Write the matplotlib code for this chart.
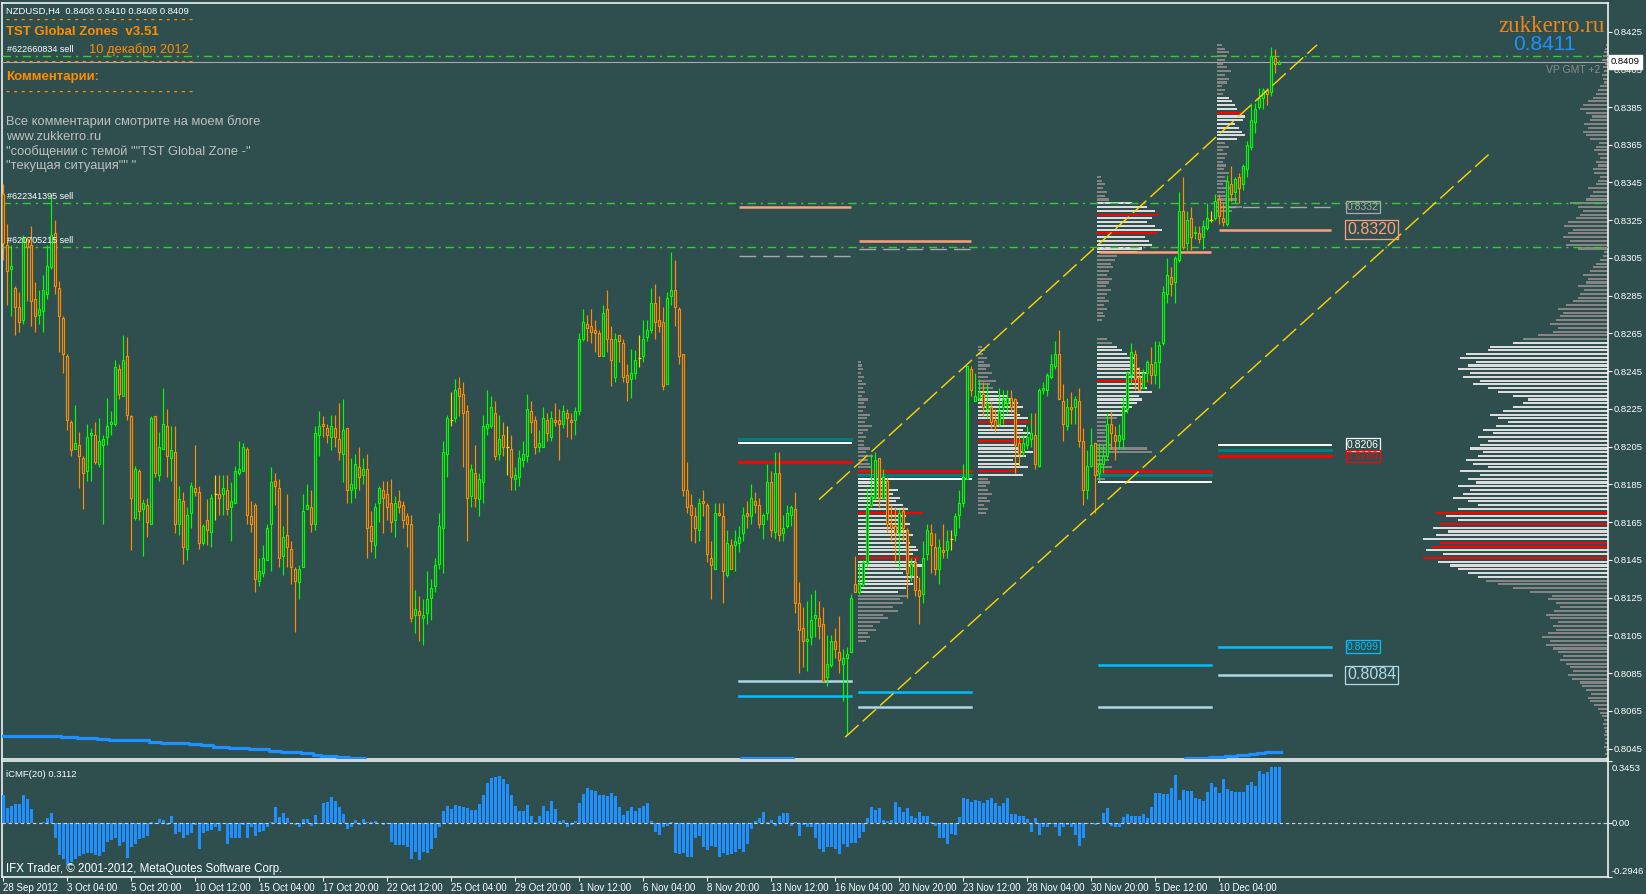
#!/usr/bin/env python3
import matplotlib
matplotlib.use("Agg")
import matplotlib.pyplot as plt
import numpy as np

plt.rcParams["font.family"] = ["Liberation Sans", "DejaVu Sans"]

# ---- NZDUSD H4 bars (prices in pips, 1 pip = 0.0001) ----
opens = [
    8339, 8312, 8299, 8289, 8279, 8272, 8315, 8312, 8283, 8275,
    8277, 8286, 8300, 8318, 8289, 8273, 8253, 8218, 8204, 8206,
    8199, 8192, 8211, 8211, 8196, 8206, 8210, 8217, 8217, 8246,
    8232, 8253, 8221, 8167, 8192, 8172, 8174, 8164, 8221, 8190,
    8204, 8216, 8199, 8202, 8164, 8176, 8151, 8170, 8183, 8181,
    8154, 8166, 8160, 8180, 8180, 8180, 8182, 8173, 8175, 8191,
    8192, 8204, 8168, 8174, 8134, 8138, 8145, 8164, 8187, 8183,
    8147, 8158, 8151, 8140, 8133, 8141, 8172, 8173, 8164, 8211,
    8217, 8215, 8210, 8215, 8209, 8201, 8215, 8182, 8183, 8194,
    8190, 8193, 8163, 8153, 8175, 8182, 8180, 8175, 8166, 8176,
    8174, 8168, 8164, 8116, 8118, 8114, 8117, 8125, 8131, 8143,
    8162, 8201, 8219, 8220, 8236, 8233, 8224, 8179, 8191, 8177,
    8186, 8215, 8216, 8223, 8201, 8211, 8205, 8204, 8188, 8189,
    8198, 8200, 8224, 8219, 8205, 8205, 8219, 8210, 8219, 8219,
    8217, 8223, 8219, 8219, 8224, 8262, 8270, 8269, 8267, 8265,
    8253, 8278, 8262, 8242, 8264, 8260, 8243, 8241, 8244, 8252,
    8253, 8263, 8267, 8281, 8272, 8271, 8238, 8285, 8288, 8278,
    8254, 8182, 8174, 8168, 8161, 8176, 8174, 8146, 8140, 8170,
    8168, 8137, 8153, 8153, 8154, 8159, 8170, 8168, 8176, 8174,
    8164, 8170, 8186, 8160, 8191, 8159, 8163, 8169, 8172, 8122,
    8109, 8102, 8104, 8114, 8114, 8111, 8083, 8089, 8102, 8096,
    8090, 8093, 8096, 8132, 8128, 8132, 8144, 8174, 8178, 8199,
    8178, 8187, 8164, 8163, 8159, 8171, 8161, 8137, 8144, 8129,
    8127, 8148, 8159, 8152, 8140, 8150, 8150, 8156, 8158, 8169,
    8175, 8188, 8246, 8229, 8231, 8233, 8225, 8226, 8219, 8217,
    8226, 8228, 8231, 8230, 8207, 8202, 8206, 8209, 8211, 8195,
    8235, 8235, 8242, 8248, 8254, 8229, 8216, 8226, 8226, 8229,
    8208, 8182, 8195, 8207, 8191, 8196, 8200, 8217, 8211, 8208,
    8209, 8225, 8243, 8254, 8242, 8236, 8244, 8249, 8243, 8250,
    8260, 8286, 8295, 8292, 8304, 8330, 8313, 8326, 8318, 8318,
    8316, 8321, 8325, 8326, 8336, 8326, 8323, 8344, 8340, 8348,
    8344, 8352, 8364, 8377, 8385, 8390, 8394, 8393, 8411, 8408,
]
highs = [
    8344, 8323, 8312, 8290, 8287, 8317, 8316, 8322, 8292, 8288,
    8296, 8312, 8339, 8325, 8293, 8274, 8254, 8219, 8227, 8213,
    8200, 8217, 8215, 8218, 8220, 8211, 8231, 8224, 8251, 8249,
    8264, 8263, 8222, 8195, 8193, 8177, 8178, 8221, 8221, 8213,
    8236, 8225, 8216, 8216, 8184, 8181, 8173, 8186, 8206, 8184,
    8164, 8177, 8180, 8190, 8190, 8190, 8190, 8186, 8195, 8208,
    8207, 8205, 8176, 8175, 8146, 8153, 8164, 8194, 8191, 8188,
    8163, 8180, 8155, 8141, 8142, 8180, 8185, 8182, 8216, 8224,
    8221, 8217, 8222, 8222, 8228, 8230, 8215, 8199, 8201, 8205,
    8199, 8201, 8171, 8175, 8184, 8187, 8187, 8188, 8179, 8182,
    8176, 8170, 8169, 8129, 8126, 8124, 8139, 8135, 8146, 8170,
    8208, 8222, 8234, 8241, 8242, 8239, 8227, 8196, 8206, 8191,
    8222, 8235, 8232, 8229, 8222, 8218, 8216, 8211, 8194, 8203,
    8208, 8233, 8229, 8221, 8214, 8226, 8223, 8224, 8228, 8225,
    8227, 8225, 8223, 8226, 8265, 8278, 8275, 8278, 8272, 8267,
    8280, 8288, 8269, 8265, 8264, 8262, 8249, 8257, 8256, 8264,
    8272, 8272, 8289, 8291, 8285, 8279, 8287, 8308, 8304, 8279,
    8254, 8197, 8180, 8173, 8178, 8182, 8175, 8155, 8175, 8175,
    8175, 8161, 8156, 8161, 8163, 8173, 8176, 8185, 8181, 8178,
    8170, 8196, 8192, 8202, 8202, 8169, 8174, 8174, 8181, 8133,
    8120, 8123, 8127, 8129, 8123, 8120, 8105, 8105, 8109, 8115,
    8098, 8099, 8127, 8147, 8143, 8145, 8183, 8201, 8202, 8199,
    8193, 8189, 8174, 8173, 8172, 8173, 8162, 8146, 8146, 8136,
    8155, 8164, 8164, 8159, 8156, 8164, 8161, 8161, 8170, 8182,
    8196, 8248, 8248, 8244, 8241, 8239, 8238, 8229, 8225, 8236,
    8235, 8235, 8235, 8231, 8211, 8211, 8216, 8223, 8223, 8236,
    8239, 8244, 8254, 8261, 8267, 8238, 8231, 8234, 8232, 8236,
    8215, 8203, 8215, 8207, 8207, 8206, 8223, 8224, 8216, 8217,
    8232, 8245, 8260, 8256, 8247, 8246, 8251, 8258, 8261, 8261,
    8290, 8305, 8300, 8306, 8340, 8348, 8330, 8332, 8322, 8322,
    8325, 8334, 8330, 8339, 8339, 8334, 8349, 8354, 8348, 8350,
    8355, 8367, 8387, 8387, 8395, 8395, 8395, 8417, 8416, 8410,
]
lows = [
    8304, 8280, 8274, 8264, 8266, 8270, 8282, 8269, 8266, 8270,
    8266, 8283, 8299, 8286, 8255, 8244, 8214, 8200, 8204, 8183,
    8172, 8187, 8187, 8196, 8194, 8164, 8206, 8211, 8216, 8230,
    8232, 8219, 8150, 8166, 8166, 8147, 8157, 8164, 8189, 8187,
    8204, 8189, 8187, 8159, 8158, 8143, 8145, 8162, 8179, 8151,
    8153, 8153, 8152, 8166, 8169, 8169, 8169, 8155, 8175, 8190,
    8192, 8164, 8160, 8128, 8131, 8136, 8145, 8139, 8174, 8141,
    8137, 8141, 8132, 8107, 8124, 8141, 8172, 8160, 8161, 8200,
    8210, 8207, 8203, 8205, 8198, 8186, 8175, 8175, 8178, 8182,
    8185, 8146, 8149, 8146, 8165, 8159, 8166, 8160, 8157, 8170,
    8162, 8152, 8112, 8106, 8102, 8100, 8111, 8113, 8128, 8140,
    8138, 8189, 8216, 8218, 8221, 8194, 8155, 8173, 8173, 8168,
    8175, 8211, 8215, 8198, 8198, 8200, 8190, 8182, 8182, 8184,
    8194, 8197, 8212, 8201, 8202, 8205, 8208, 8208, 8216, 8198,
    8215, 8210, 8209, 8211, 8222, 8261, 8261, 8260, 8255, 8253,
    8253, 8255, 8237, 8239, 8250, 8239, 8229, 8231, 8241, 8247,
    8250, 8261, 8265, 8262, 8266, 8235, 8238, 8280, 8269, 8249,
    8179, 8170, 8155, 8154, 8155, 8168, 8144, 8124, 8140, 8168,
    8122, 8136, 8140, 8139, 8149, 8155, 8162, 8164, 8170, 8162,
    8156, 8166, 8157, 8156, 8155, 8155, 8162, 8163, 8117, 8085,
    8088, 8086, 8100, 8104, 8103, 8081, 8078, 8088, 8093, 8085,
    8070, 8052, 8096, 8128, 8127, 8131, 8141, 8173, 8177, 8173,
    8177, 8160, 8155, 8144, 8140, 8155, 8125, 8134, 8126, 8111,
    8122, 8145, 8138, 8137, 8132, 8146, 8146, 8150, 8155, 8162,
    8173, 8188, 8232, 8229, 8229, 8221, 8220, 8215, 8213, 8216,
    8217, 8223, 8223, 8191, 8195, 8200, 8204, 8205, 8193, 8194,
    8233, 8232, 8241, 8246, 8230, 8208, 8214, 8217, 8217, 8205,
    8174, 8177, 8194, 8170, 8187, 8191, 8199, 8204, 8198, 8204,
    8204, 8223, 8238, 8235, 8235, 8236, 8239, 8238, 8238, 8236,
    8259, 8281, 8285, 8281, 8303, 8310, 8309, 8309, 8315, 8313,
    8310, 8320, 8324, 8325, 8323, 8322, 8322, 8335, 8334, 8334,
    8341, 8348, 8362, 8371, 8384, 8384, 8386, 8391, 8403, 8408,
]
closes = [
    8313, 8298, 8301, 8279, 8271, 8316, 8311, 8282, 8274, 8278,
    8288, 8301, 8317, 8290, 8274, 8254, 8219, 8203, 8207, 8200,
    8191, 8210, 8212, 8197, 8208, 8209, 8216, 8218, 8247, 8233,
    8251, 8222, 8178, 8193, 8171, 8175, 8165, 8220, 8191, 8205,
    8217, 8200, 8203, 8164, 8177, 8152, 8169, 8184, 8181, 8154,
    8163, 8161, 8178, 8180, 8178, 8183, 8172, 8176, 8192, 8193,
    8205, 8169, 8164, 8135, 8139, 8146, 8162, 8186, 8184, 8146,
    8157, 8152, 8141, 8134, 8140, 8171, 8174, 8164, 8212, 8216,
    8216, 8211, 8216, 8210, 8202, 8214, 8182, 8185, 8196, 8189,
    8193, 8162, 8155, 8173, 8183, 8178, 8173, 8165, 8175, 8173,
    8166, 8164, 8114, 8119, 8116, 8116, 8124, 8130, 8142, 8163,
    8202, 8220, 8219, 8235, 8232, 8223, 8178, 8193, 8178, 8188,
    8216, 8217, 8226, 8200, 8209, 8205, 8205, 8189, 8190, 8199,
    8201, 8225, 8218, 8205, 8207, 8220, 8212, 8220, 8218, 8217,
    8224, 8220, 8218, 8224, 8262, 8271, 8268, 8266, 8265, 8253,
    8276, 8262, 8251, 8262, 8261, 8242, 8239, 8244, 8251, 8252,
    8262, 8267, 8281, 8271, 8269, 8237, 8284, 8288, 8279, 8253,
    8182, 8173, 8169, 8162, 8175, 8175, 8148, 8142, 8170, 8169,
    8139, 8154, 8140, 8155, 8157, 8169, 8168, 8178, 8174, 8164,
    8169, 8186, 8161, 8191, 8158, 8162, 8170, 8173, 8122, 8108,
    8102, 8103, 8113, 8116, 8110, 8081, 8090, 8102, 8098, 8092,
    8093, 8095, 8125, 8128, 8132, 8144, 8173, 8179, 8198, 8178,
    8189, 8164, 8162, 8159, 8170, 8162, 8138, 8143, 8129, 8126,
    8146, 8161, 8153, 8140, 8152, 8149, 8155, 8156, 8168, 8175,
    8189, 8248, 8235, 8232, 8234, 8226, 8228, 8218, 8216, 8224,
    8230, 8231, 8226, 8206, 8201, 8207, 8210, 8212, 8196, 8235,
    8236, 8243, 8249, 8254, 8230, 8217, 8226, 8225, 8230, 8208,
    8182, 8195, 8206, 8190, 8196, 8200, 8217, 8212, 8208, 8211,
    8226, 8244, 8255, 8241, 8235, 8244, 8250, 8243, 8250, 8259,
    8287, 8296, 8291, 8305, 8330, 8311, 8325, 8316, 8319, 8315,
    8322, 8326, 8325, 8335, 8327, 8324, 8346, 8339, 8347, 8342,
    8354, 8365, 8378, 8384, 8390, 8394, 8392, 8412, 8408, 8409,
]

# ---- Chaikin money flow (thousandths) ----
cmf_values = [
    157, 83, 94, 107, 107, 157, 135, 80, 0, 2,
    6, 30, 57, -80, -176, -194, -231, -213, -198, -179,
    -170, -165, -161, -176, -179, -157, -105, -91, -83, -124,
    -102, -189, -133, -115, -87, -78, -68, 6, -2, 24,
    19, -9, 39, -59, -50, -78, -65, -54, -9, -142,
    -54, -41, -37, -17, -41, 2, -115, -78, -78, -78,
    -9, -83, -22, -72, -50, -41, -22, 6, 89, 33,
    57, 28, 2, -6, -17, 24, 24, -13, 46, -2,
    113, 120, 144, 126, 89, 50, -31, -17, 19, -9,
    24, 9, 6, 13, 2, -6, -4, -105, -120, -120,
    -120, -133, -194, -157, -202, -157, -161, -139, -83, -17,
    70, 94, 80, 102, 94, 89, 83, 76, 76, 107,
    157, 224, 250, 255, 261, 246, 218, 157, 94, 70,
    70, 102, 39, 6, 39, 94, 70, 126, 80, 15,
    20, -17, -6, 13, 113, 163, 194, 187, 181, 157,
    157, 150, 168, 150, 89, 46, 70, 89, 70, 83,
    94, 113, 13, -50, -65, -22, -13, 6, -165, -170,
    -165, -183, -183, -78, -72, -133, -146, -124, -133, -183,
    -165, -176, -170, -157, -142, -157, -115, -31, 15, 30,
    61, 6, 19, -13, 39, 56, 56, -13, 6, -68,
    -9, -17, -17, -78, -142, -157, -133, -133, -139, -170,
    -115, -133, -109, -109, -81, -50, 28, 89, 76, 83,
    20, 13, 20, 117, 89, 65, 83, 43, 28, 61,
    43, 43, 6, -13, -78, -83, -115, -59, -65, 33,
    139, 135, 120, 131, 126, 113, 131, 139, 113, 94,
    113, 139, 52, 52, 39, 43, 24, -46, 28, -65,
    -22, -17, -4, -22, -72, -17, -9, -22, -65, -124,
    -78, -4, 2, -6, 2, 57, 83, -13, -22, -22,
    33, 52, 39, 39, 39, 52, 28, 89, 168, 168,
    163, 163, 194, 268, 131, 187, 181, 181, 139, 135,
    126, 176, 224, 200, 168, 246, 191, 181, 176, 176,
    176, 213, 231, 209, 292, 274, 287, 311, 311, 311.2,
]
cmf_top, cmf_bottom = 0.3453, -0.2946

date_labels = ["28 Sep 2012", "3 Oct 04:00", "5 Oct 20:00", "10 Oct 12:00",
               "15 Oct 04:00", "17 Oct 20:00", "22 Oct 12:00", "25 Oct 04:00",
               "29 Oct 20:00", "1 Nov 12:00", "6 Nov 04:00", "8 Nov 20:00",
               "13 Nov 12:00", "16 Nov 04:00", "20 Nov 20:00", "23 Nov 12:00",
               "28 Nov 04:00", "30 Nov 20:00", "5 Dec 12:00", "10 Dec 04:00"]
date_label_bars = [0, 16, 32, 48, 64, 80, 96, 112, 128, 144, 160, 176,
                   192, 208, 224, 240, 256, 272, 288, 304]

# stepped moving average (bar where each step starts, value in pips)
ma_start_bar = [0, 15, 19, 24, 27, 37, 40, 47, 50, 53, 57, 62, 67, 70, 75, 78,
                80, 84, 87, 91, 130, 185, 198, 250, 296, 302, 306, 309, 312,
                314, 316, 318]
ma_value = [8051.7, 8051.2, 8050.6, 8049.9, 8049.5, 8048.6, 8048.0, 8047.3,
            8046.7, 8045.9, 8045.2, 8044.5, 8043.8, 8043.1, 8042.4, 8041.7,
            8041.0, 8040.3, 8039.9, 8038.5, 8037.5, 8039.9, 8038.0, 8037.0,
            8040.2, 8040.6, 8041.1, 8041.7, 8042.2, 8042.7, 8043.1, 8043.4]

# trend channel (bar, price)
chan_up_x, chan_up_y = [204.0, 328.5], [0.8177, 0.8418]
chan_lo_x, chan_lo_y = [210.5, 371.5], [0.8051, 0.8360]

# open sell orders
order_levels = [0.8412, 0.8334, 0.8311]
order_names = ["#622660834 sell", "#622341395 sell", "#620705215 sell"]
bid_price = 0.8409

# zone levels drawn for each week
zone_start = [184, 214, 274, 304]
zone_end = [212, 242, 302, 332]
salmon_lv = [0.8332, 0.8314, 0.8308, 0.8320]
gray_lv = [0.8306, 0.8310, None, 0.8332]
teal_lv = [0.8209, 0.8190, 0.8190, 0.8203]
white_lv = [0.8207, 0.8188, 0.8186, 0.8206]
red_lv = [0.8197, 0.8192, 0.8192, 0.8200]
sky_lv = [0.8073, 0.8075, 0.8089, 0.8099]
light_lv = [0.8081, 0.8067, 0.8067, 0.8084]

# overall volume profile on the right (2-pip bins from 0.8040)
vp_right_low = 0.8040
vp_right = [2, 3, 2, 4, 3, 3, 4, 3, 4, 5, 4, 6, 8,
            10, 14, 18, 20, 17, 22, 26,
            28, 36, 40, 35, 38, 42, 48, 45,
            50, 55, 62, 58, 66, 60, 52, 55, 50, 58, 62, 54, 48, 52, 60, 56,
            78, 95, 110, 122, 130,
            140, 150, 158, 170, 185,
            165, 182, 176, 168, 185, 172, 160, 175, 168, 150, 162, 172,
            150, 130, 140, 155,
            145, 138, 150, 132, 140, 128, 148, 120, 135, 142, 130, 125, 138, 128,
            120, 130, 115, 125, 112, 100, 110, 118, 105, 95,
            85, 80, 95, 110, 120,
            135, 128, 145, 138, 150, 140, 132, 148, 142, 120, 118,
            95, 85, 70,
            55, 50, 58, 52, 48, 45, 50, 42, 35, 30,
            28, 24, 30, 22, 20, 25, 18, 15, 12, 8, 5, 4,
            30, 42, 38, 45, 40, 35, 44, 40, 32, 28, 25, 30, 38,
            22, 18, 15, 20, 12, 10, 8, 14,
            15, 10, 12, 8, 10, 14, 12, 9,
            18, 22, 25, 20, 24, 18, 16, 22, 28, 25, 20, 15, 12, 10, 8,
            4, 5, 6, 4, 5, 3, 6, 5, 4, 3, 2]
vp_right_va = (0.8136, 0.8260)
vp_right_poc = [0.8146, 0.8152, 0.8154, 0.8164, 0.8170]

# weekly session profiles
wk_start = [214, 244, 274, 304]
wk_low = [0.8102, 0.8170, 0.8188, 0.8330]
wk_vol_1 = [8, 12, 10, 18, 15, 22, 30, 25, 40, 35, 45, 42, 50,
            40, 48, 55, 52, 60, 45, 50, 65, 58, 62, 55, 60,
            58, 52, 48, 55, 50, 45, 52, 40, 48, 65,
            50, 45, 38, 42, 35, 40, 30, 28, 22, 20,
            18, 14, 12, 10, 15, 8, 12, 6,
            6, 8, 5, 10, 14, 7, 9, 12, 5, 8, 6, 10, 4, 7, 5, 8, 4, 6, 3, 5, 4, 3]
wk_vol_2 = [8, 10, 6, 12, 9, 14, 10, 8, 12, 10,
            45, 40, 50, 42, 35, 48, 55, 40, 38, 45, 50, 52, 45, 48, 55, 50, 42,
            38, 45, 40, 35, 30,
            20, 15, 12, 18, 10, 14, 8, 12, 6, 9, 5, 7, 4]
wk_vol_3 = [8, 12, 10, 15, 8, 12, 10, 55, 50, 14, 10, 12, 8, 10, 12, 9,
            20, 25, 30, 35, 40, 45, 42, 55, 50, 48, 52, 45, 50, 42, 38, 35, 40,
            30, 25, 20, 15, 10,
            0, 0, 0, 0,
            5, 8, 6, 10, 7, 12, 8, 10, 14, 9, 12, 15, 10, 12, 16, 14, 18, 20,
            40, 45, 55, 52, 48, 60, 65, 58, 50, 55, 62, 58, 50, 35,
            12, 8, 10, 6, 8, 5, 4]
wk_vol_4 = [15, 25, 12, 20, 10, 8, 14, 6, 10, 8, 12, 7, 9, 6, 8, 10, 6, 12, 8,
            20, 28, 25, 22, 18, 26, 28, 24, 20, 18, 15, 12,
            6, 8, 5, 10, 12, 8, 14, 10, 6, 8, 10, 12, 8, 5]
wk_va = [[(0.8128, 0.8190)], [(0.8190, 0.8234)],
         [(0.8222, 0.8258), (0.8308, 0.8334)], [(0.8368, 0.8390)]]
wk_poc = [[0.8146, 0.8170], [0.8192, 0.8208, 0.8218],
          [0.8240, 0.8318, 0.8328], [0.8382]]

# ---- style ----
W, H = 1646, 894
BG = "#2F4F4F"
BULL = "#00FF00"
BEAR = "#FF8C00"
DOJI = "#FFD700"
ORANGE = "#FF8C00"
VP_GRAY = "#858585"
VP_WHITE = "#DCDCDC"
PIP = 1e-4
X_RIGHT = 401.25

fig = plt.figure(figsize=(W / 100, H / 100), dpi=100, facecolor=BG)
ax = fig.add_axes([2.3 / W, 1 - 758.5 / H, (1608 - 2.3) / W, (758.5 - 2.7) / H],
                  facecolor=BG)
cx = fig.add_axes([2.3 / W, 1 - 876.7 / H, (1608 - 2.3) / W, (876.7 - 761) / H],
                  facecolor=BG)
for a in (ax, cx):
    for s in a.spines.values():
        s.set_color("white")
        s.set_linewidth(1.1)
    a.set_xlim(-0.25, X_RIGHT)

o = np.array(opens) * PIP
h = np.array(highs) * PIP
l = np.array(lows) * PIP
c = np.array(closes) * PIP
idx = np.arange(len(o))
up = np.array(closes) > np.array(opens)
dn = np.array(closes) < np.array(opens)
dj = np.array(closes) == np.array(opens)

ax.set_ylim(0.80397, 0.84403)

# right-hand volume profile
vp_p = vp_right_low + 2 * PIP * np.arange(len(vp_right))
vp_col = []
for p in vp_p:
    if any(abs(p - q) < 0.5 * PIP for q in vp_right_poc):
        vp_col.append("#FF0000")
    elif vp_right_va[0] - 1e-6 <= p <= vp_right_va[1] + 1e-6:
        vp_col.append(VP_WHITE)
    else:
        vp_col.append(VP_GRAY)
ax.barh(vp_p, -np.array(vp_right) * 0.25, left=X_RIGHT, height=1.1 * PIP,
        color=vp_col, linewidth=0, zorder=2)

# weekly profiles
for start, low, vol, va, poc in zip(wk_start, wk_low,
                                    [wk_vol_1, wk_vol_2, wk_vol_3, wk_vol_4],
                                    wk_va, wk_poc):
    pp = low + 2 * PIP * np.arange(len(vol))
    cols = []
    for p in pp:
        if any(abs(p - q) < 0.5 * PIP for q in poc):
            cols.append("#FF0000")
        elif any(lo - 1e-6 <= p <= hi + 1e-6 for lo, hi in va):
            cols.append(VP_WHITE)
        else:
            cols.append(VP_GRAY)
    ax.barh(pp, np.array(vol) * 0.25, left=start - 0.4, height=1.1 * PIP,
            color=cols, linewidth=0, zorder=2)

# order lines and bid line
for lv, name in zip(order_levels, order_names):
    ax.axhline(lv, color="#32CD32", lw=1.0, ls=(0, (6, 3.5, 1.5, 3.5)), zorder=3)
    ax.annotate(name, xy=(0.003, lv), xycoords=("axes fraction", "data"),
                xytext=(0, 1.5), textcoords="offset points", va="bottom",
                ha="left", color="white", fontsize=6.5, zorder=8)
ax.axhline(bid_price, color="#A9A9A9", lw=0.8, zorder=3)

# zone levels
for i in range(len(zone_start)):
    xs = [zone_start[i], zone_end[i]]
    ax.plot(xs, [salmon_lv[i]] * 2, color="#FFA07A", lw=1.8, zorder=3,
            solid_capstyle="butt")
    if gray_lv[i] is not None:
        ax.plot(xs, [gray_lv[i]] * 2, color="#A9A9A9", lw=1.0, ls=(0, (12, 5)),
                zorder=3)
    ax.plot(xs, [teal_lv[i]] * 2, color="#008080", lw=2.0, zorder=3)
    ax.plot(xs, [white_lv[i]] * 2, color="white", lw=1.4, zorder=3)
    ax.plot(xs, [red_lv[i]] * 2, color="#FF0000", lw=2.0, zorder=3)
    ax.plot(xs, [sky_lv[i]] * 2, color="#00BFFF", lw=1.8, zorder=3)
    ax.plot(xs, [light_lv[i]] * 2, color="#ADD8E6", lw=1.8, zorder=3)

# labels of the current week's levels
last = len(zone_start) - 1
lab_x = zone_end[last] + 4
for lv, col, fs in [(gray_lv[last], "#A9A9A9", 7.5), (salmon_lv[last], "#FFA07A", 11.5),
                    (white_lv[last], "white", 7.5), (red_lv[last], "#FF0000", 7.5),
                    (sky_lv[last], "#00BFFF", 7.5), (light_lv[last], "#ADD8E6", 11.5)]:
    ax.text(lab_x, lv, f"{lv:.4f}", color=col, fontsize=fs, va="center", ha="left",
            zorder=8, bbox=dict(boxstyle="square,pad=0.12", fc="none", ec=col, lw=0.9))

# moving average
ma_x = np.array(ma_start_bar + [len(o)]) - 0.5
ma_y = np.array(ma_value + [ma_value[-1]]) * PIP
ax.step(ma_x, ma_y, where="post", color="#1E90FF", lw=2.3, zorder=4)

# candles
for mask, col in ((up, BULL), (dn, BEAR), (dj, DOJI)):
    ax.vlines(idx[mask], l[mask], h[mask], colors=col, lw=0.85, zorder=5)
ax.bar(idx[up], (c - o)[up], bottom=o[up], width=0.6, facecolor=BG,
       edgecolor=BULL, linewidth=0.85, zorder=6)
ax.bar(idx[dn], (o - c)[dn], bottom=c[dn], width=0.6, facecolor=BG,
       edgecolor=BEAR, linewidth=0.85, zorder=6)
ax.hlines(c[dj], idx[dj] - 0.4, idx[dj] + 0.4, colors=DOJI, lw=0.9, zorder=6)

# channel
for xs, ys in ((chan_up_x, chan_up_y), (chan_lo_x, chan_lo_y)):
    ax.plot(xs, ys, color="#FFD700", lw=1.0, ls=(0, (13, 4)), zorder=7)

# price axis
price_ticks = [round(0.8045 + 0.0020 * k, 4) for k in range(20)]
ax.set_xticks([])
ax.yaxis.tick_right()
ax.set_yticks(price_ticks)
ax.set_yticklabels([f"{t:.4f}" for t in price_ticks])
ax.tick_params(axis="y", colors="white", labelsize=6.8, length=3, width=0.8, pad=1)
ax.annotate(f"{bid_price:.4f}", xy=(1, bid_price),
            xycoords=("axes fraction", "data"), xytext=(2.2, 0),
            textcoords="offset points", va="center", ha="left", color="black",
            fontsize=6.8, annotation_clip=False, zorder=10,
            bbox=dict(boxstyle="square,pad=0.25", fc="white", ec="white"))

# CMF panel
cmf = np.array(cmf_values) / 1000.0
cx.bar(idx[:len(cmf)], cmf, width=0.72, color="#1E90FF", linewidth=0, zorder=3)
cx.axhline(0, color="#D3D3D3", lw=0.8, ls=(0, (3, 2.5)), zorder=4)
cx.set_ylim(cmf_bottom, cmf_top)
cx.yaxis.tick_right()
cx.set_yticks([cmf_bottom, 0, cmf_top])
cx.set_yticklabels([])
cx.tick_params(axis="y", colors="white", length=3, width=0.8)
for val, txt, va, dy in ((cmf_top, f"{cmf_top:.4f}", "top", -2.5),
                         (0, "0.00", "center", 0),
                         (cmf_bottom, f"{cmf_bottom:.4f}", "bottom", 0.5)):
    cx.annotate(txt, xy=(1, val), xycoords=("axes fraction", "data"),
                xytext=(2.5, dy), textcoords="offset points", va=va, ha="left",
                color="white", fontsize=6.8, annotation_clip=False)
cx.set_xticks(date_label_bars)
cx.set_xticklabels(date_labels, ha="left")
cx.tick_params(axis="x", colors="white", labelsize=7, length=3, width=0.8, pad=1.5)
cx.text(0.002, 0.88, f"iCMF(20) {cmf[-1]:.4f}", transform=cx.transAxes,
        color="white", fontsize=6.8, va="center")
cx.text(0.002, 0.07, "IFX Trader, © 2001-2012, MetaQuotes Software Corp.",
        transform=cx.transAxes, color="white", fontsize=8.3, va="center")


def put(x, y, s, **kw):
    fig.text(x / W, 1 - y / H, s, va="center", **kw)


# top-left comment block
dashes = "- " * 25
put(6, 11, "NZDUSD,H4  0.8408 0.8410 0.8408 0.8409", color="white", fontsize=6.8)
put(6, 20, dashes, color=ORANGE, fontsize=9, fontweight="bold")
put(6, 32, "TST Global Zones  v3.51", color=ORANGE, fontsize=9.5, fontweight="bold")
put(89, 50, "10 декабря 2012", color=ORANGE, fontsize=9.3)
put(6, 62, dashes, color=ORANGE, fontsize=9, fontweight="bold")
put(6, 77, "Комментарии:", color=ORANGE, fontsize=9.5, fontweight="bold")
put(6, 92, dashes, color=ORANGE, fontsize=9, fontweight="bold")
comment_lines = ["Все комментарии смотрите на моем блоге", "www.zukkerro.ru",
                 '"сообщении с темой ""TST Global Zone -"', '"текущая ситуация"" "']
for k, line in enumerate(comment_lines):
    put(6, 122 + 14.6 * k, line, color="#C0C0C0", fontsize=9.3)

# top-right labels
put(1605, 27, "zukkerro.ru", color="#F08418", fontsize=16.5,
    family="Liberation Serif", ha="right")
put(1544, 45, "0.8411", color="#1E90FF", fontsize=15, ha="center")
put(1600, 70, "VP GMT +2", color="#8C8C8C", fontsize=7.5, ha="right")

fig.savefig("out.png", dpi=100, facecolor=BG)
